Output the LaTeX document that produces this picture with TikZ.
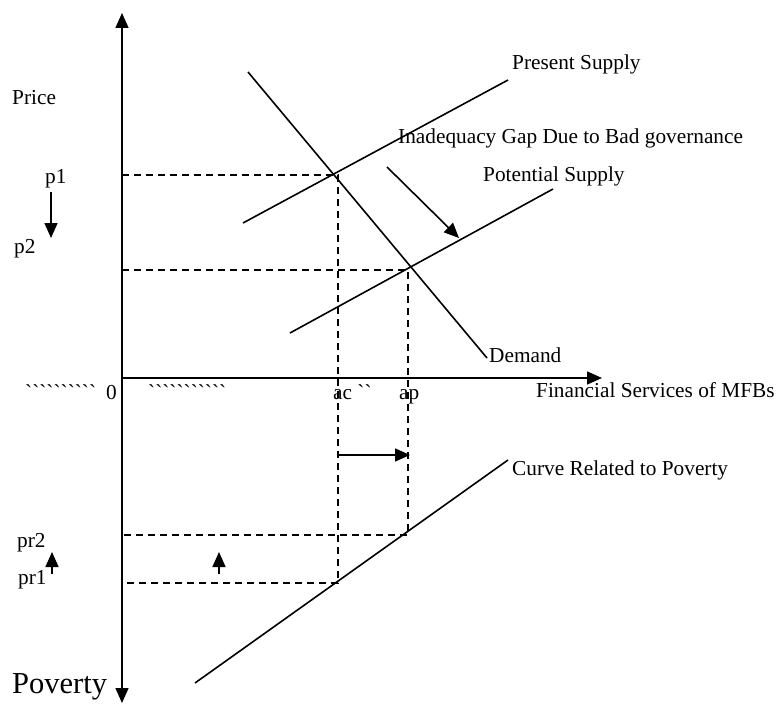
\documentclass[tikz,border=0pt]{standalone}
\usepackage{fontspec}
\setmainfont{Liberation Serif}
\newfontfamily\rawfont{Liberation Serif}[Ligatures=TeXOff]
\usetikzlibrary{arrows.meta}
\newcommand\bq{\char96\relax}
\begin{document}
\begin{tikzpicture}[x=1pt,y=-1pt,
  lbl/.style={font=\fontsize{21.3}{24}\selectfont, inner sep=0pt, anchor=base west},
  curve/.style={line width=1.6pt},
  guide/.style={line width=1.6pt, dash pattern=on 7pt off 5pt},
  tip/.style={line width=1.6pt, -{Triangle[length=15pt,width=13pt]}}]
\useasboundingbox (0,0) rectangle (777,709);
% axes
\coordinate (O) at (122,378);
\coordinate (Ytop) at (122,13);
\coordinate (Ybot) at (122,703);
\coordinate (Xend) at (602,378);
\draw[tip] (O) -- (Ytop);
\draw[tip] (O) -- (Ybot);
\draw[tip] (O) -- (Xend);
% curves
\coordinate (D1) at (248,72);
\coordinate (D2) at (487,358);
\coordinate (S1) at (243,223);
\coordinate (S2) at (508,80);
\coordinate (P1) at (290,333);
\coordinate (P2) at (553,189);
\coordinate (C1) at (195,683);
\coordinate (C2) at (508,460);
\draw[curve] (D1) -- (D2);
\draw[curve] (S1) -- (S2);
\draw[curve] (P1) -- (P2);
\draw[curve] (C1) -- (C2);
% guide lines
\coordinate (yp1) at (122,175);
\coordinate (yp2) at (122,270);
\coordinate (ypr2) at (122,535);
\coordinate (ypr1) at (122,583);
\coordinate (E1) at (338,175);
\coordinate (E2) at (408,270);
\coordinate (F1) at (338,583);
\coordinate (F2) at (408,535);
\draw[guide] (yp1) -- (E1) -- (F1) -- (ypr1);
\draw[guide] (yp2) -- (E2) -- (F2) -- (ypr2);
% arrows
\coordinate (pa) at (51,192); \coordinate (pb) at (51,238);
\draw[tip] (pa) -- (pb);
\coordinate (ga) at (387,167); \coordinate (gb) at (459,238);
\draw[tip] (ga) -- (gb);
\coordinate (ha) at (338,455); \coordinate (hb) at (410,455);
\draw[tip] (ha) -- (hb);
\coordinate (ra) at (52,574); \coordinate (rb) at (52,552);
\draw[tip] (ra) -- (rb);
\coordinate (sa) at (219,574); \coordinate (sb) at (219,552);
\draw[tip] (sa) -- (sb);
% labels
\node[lbl] (price) at (12,104) {Price};
\node[lbl] (pres) at (512,70) {Present Supply};
\node[lbl] (gap) at (398,143) {Inadequacy Gap Due to Bad governance};
\node[lbl] (pot) at (483,181) {Potential Supply};
\node[lbl] (lp1) at (45,183) {p1};
\node[lbl] (lp2) at (14,253) {p2};
\node[lbl] (zero) at (106,399) {0};
\node[lbl] (bq1) at (25,399) {\rawfont\bq\bq\bq\bq\bq\bq\bq\bq\bq\bq};
\node[lbl] (bq2) at (148,399) {\rawfont\bq\bq\bq\bq\bq\bq\bq\bq\bq\bq\bq};
\node[lbl] (ac) at (333,399) {ac {\rawfont\bq\bq}};
\node[lbl] (ap) at (399,399) {ap};
\node[lbl] (fin) at (536,397) {Financial Services of MFBs};
\node[lbl] (dem) at (489,362) {Demand};
\node[lbl] (crv) at (512,475) {Curve Related to Poverty};
\node[lbl] (pr2) at (17,547) {pr2};
\node[lbl] (pr1) at (18,584) {pr1};
\node[lbl, font=\fontsize{30.5}{34}\selectfont] (pov) at (12,693) {Poverty};
\end{tikzpicture}
\end{document}
